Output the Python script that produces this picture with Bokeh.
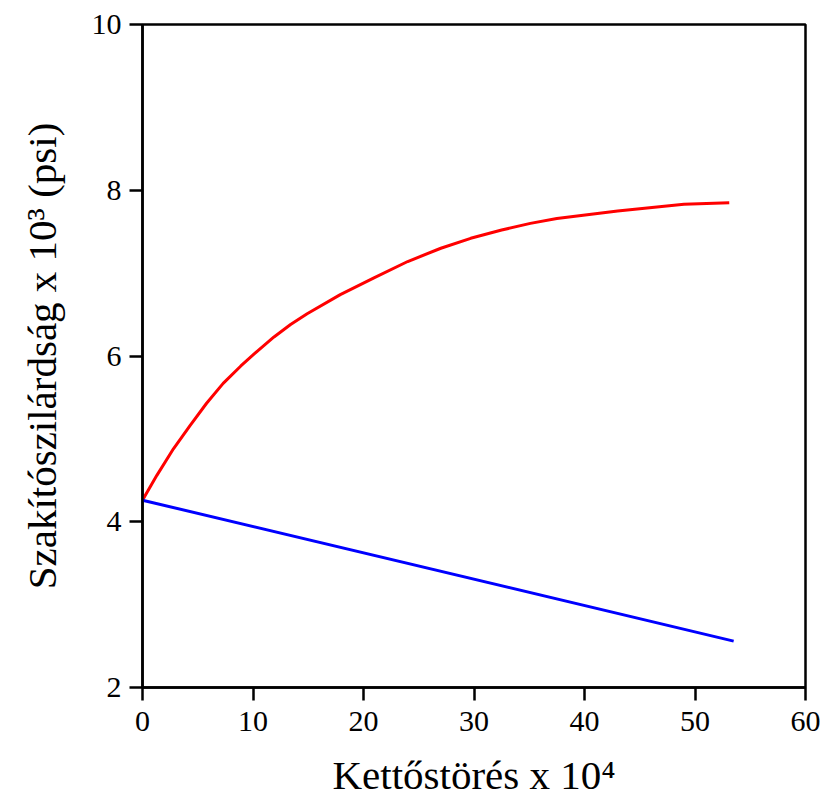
from bokeh.plotting import figure
from bokeh.models import Range1d, FixedTicker
from bokeh.embed import file_html
from bokeh.resources import INLINE

# Data
red_x = [0, 1.3, 2.8, 4.3, 5.8, 7.3, 8.9, 10.4, 11.9, 13.4, 14.9, 17.9, 20.9, 24.0, 27.0, 29.7, 32.5, 35.1, 37.5, 43.0, 49.0, 53.1]
red_y = [4.26, 4.56, 4.88, 5.16, 5.43, 5.67, 5.88, 6.06, 6.23, 6.38, 6.51, 6.74, 6.94, 7.14, 7.30, 7.42, 7.52, 7.60, 7.66, 7.75, 7.83, 7.85]
blue_x = [0, 53.5]
blue_y = [4.26, 2.56]

x_ticks = [0, 10, 20, 30, 40, 50, 60]
y_ticks = [2, 4, 6, 8, 10]

x_title = "Kettőstörés x 10\u2074"
y_title = "Szakítószilárdság x 10\u00b3 (psi)"

FONT = "Liberation Serif"

p = figure(width=834, height=809, output_backend="svg", toolbar_location=None,
           x_range=Range1d(0, 60), y_range=Range1d(2, 10),
           min_border_left=142, min_border_right=29, min_border_top=24, min_border_bottom=122)
p.grid.visible = False
p.background_fill_color = "white"
p.border_fill_color = "white"
p.outline_line_color = "black"
p.outline_line_width = 2.5

for ax, ticks in ((p.xaxis[0], x_ticks), (p.yaxis[0], y_ticks)):
    ax.ticker = FixedTicker(ticks=ticks)
    ax.minor_tick_line_color = None
    ax.major_tick_in = 0
    ax.major_tick_out = 13
    ax.major_tick_line_width = 2.5
    ax.major_tick_line_color = "black"
    ax.axis_line_width = 2.5
    ax.axis_line_color = "black"
    ax.major_label_text_font = FONT
    ax.major_label_text_font_size = "30px"
    ax.major_label_text_color = "black"
    ax.axis_label_text_font = FONT
    ax.axis_label_text_font_size = "41px"
    ax.axis_label_text_font_style = "normal"
    ax.axis_label_text_color = "black"

p.xaxis[0].axis_label = x_title
p.yaxis[0].axis_label = y_title
p.yaxis[0].major_label_standoff = 8
p.xaxis[0].major_label_standoff = 11
p.xaxis[0].axis_label_standoff = 18
p.yaxis[0].axis_label_standoff = 24

p.line(red_x, red_y, line_color="#ff0000", line_width=3)
p.line(blue_x, blue_y, line_color="#0000ff", line_width=3)

open("out.html", "w").write(file_html(p, INLINE))
